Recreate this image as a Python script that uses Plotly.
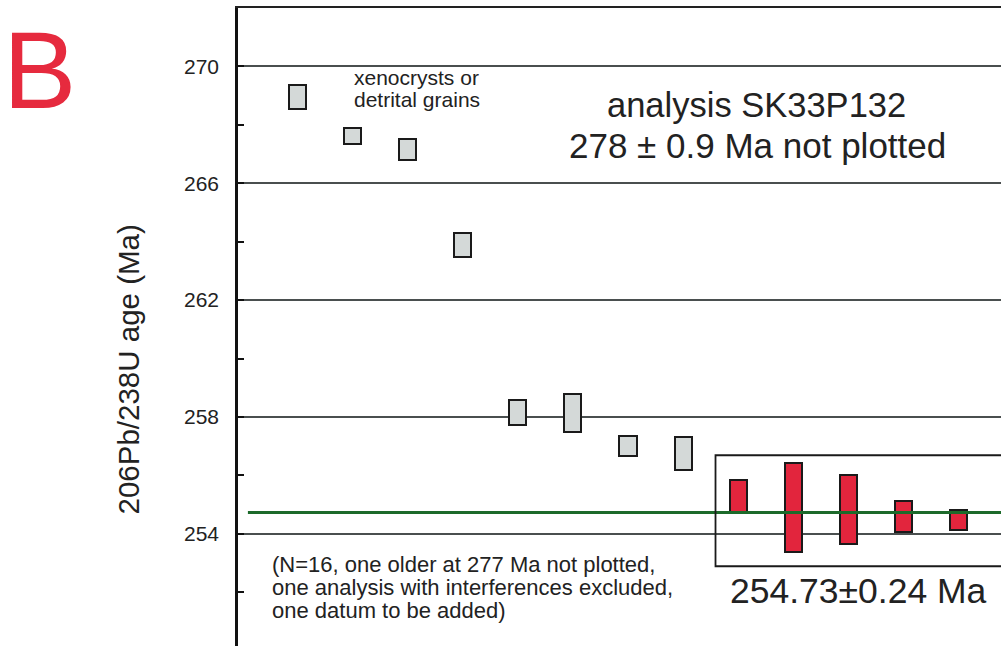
import plotly.graph_objects as go

# U-Pb zircon ages (Ma): each analysis drawn as a box from low to high age
gray_pos = [1, 2, 3, 4, 5, 6, 7, 8]
gray_lo = [268.55, 267.33, 266.78, 263.46, 257.72, 257.49, 256.65, 256.20]
gray_hi = [269.35, 267.89, 267.52, 264.31, 258.57, 258.78, 257.34, 257.31]

red_pos = [9, 10, 11, 12, 13]
red_lo = [254.76, 253.39, 253.66, 254.07, 254.14]
red_hi = [255.83, 256.42, 256.02, 255.11, 254.82]

mean_age = 254.73
mean_err = 0.24

grid_ticks = [254, 258, 262, 266, 270]
tick_labels = ["254", "258", "262", "266", "270"]

FONT = "Liberation Sans, Arial, sans-serif"
INK = "#222222"

fig = go.Figure()

fig.add_trace(go.Bar(
    x=gray_pos,
    base=gray_lo,
    y=[h - l for h, l in zip(gray_hi, gray_lo)],
    width=0.31,
    marker=dict(color="#d4d9d8", line=dict(color="#1a1a1a", width=2)),
    showlegend=False,
))
fig.add_trace(go.Bar(
    x=red_pos,
    base=red_lo,
    y=[h - l for h, l in zip(red_hi, red_lo)],
    width=0.31,
    marker=dict(color="#e2253d", line=dict(color="#1a1a1a", width=2)),
    showlegend=False,
))

X_MIN, X_MAX = -0.08, 13.772
Y_MIN, Y_MAX = 250.16, 272.0

# weighted mean line
fig.add_shape(type="line", xref="x", yref="y",
              x0=0.10, x1=X_MAX, y0=mean_age, y1=mean_age,
              line=dict(color="#1c6a2a", width=3), layer="above")

# open frame around the concordant group
fig.add_shape(type="path", xref="x", yref="y",
              path=f"M {X_MAX},256.69 L 8.589,256.69 L 8.589,252.89 L {X_MAX},252.89",
              line=dict(color="#1a1a1a", width=1.8), layer="above")

ann = []
ann.append(dict(text="xenocrysts or", x=3.164, y=269.62, font_size=21))
ann.append(dict(text="detrital grains", x=3.164, y=268.87, font_size=21))
ann.append(dict(text="analysis SK33P132", x=9.333, y=268.69, font_size=34.5))
ann.append(dict(text="278 \u00b1 0.9 Ma not plotted", x=9.36, y=267.28, font_size=35))
ann.append(dict(text=f"{mean_age:.2f}\u00b1{mean_err:.2f} Ma", x=11.176, y=252.05, font_size=35.5))
for a in ann:
    fig.add_annotation(text=a["text"], x=a["x"], y=a["y"], xref="x", yref="y",
                       xanchor="center", yanchor="middle", showarrow=False,
                       font=dict(family=FONT, size=a["font_size"], color=INK))

note_lines = ["(N=16, one older at 277 Ma not plotted,",
              "one analysis with interferences excluded,",
              "one datum to be added)"]
for line, yv in zip(note_lines, [252.96, 252.17, 251.38]):
    fig.add_annotation(text=line, x=0.50, y=yv, xref="x", yref="y",
                       xanchor="left", yanchor="middle", showarrow=False,
                       font=dict(family=FONT, size=22, color=INK))

# axis title
fig.add_annotation(text="206Pb/238U age (Ma)", x=-0.1435, y=259.61,
                   xref="paper", yref="y", textangle=-90,
                   xanchor="center", yanchor="middle", showarrow=False,
                   font=dict(family=FONT, size=29.5, color=INK))

# panel letter
fig.add_annotation(text="B", x=-0.2608, y=269.9, xref="paper", yref="y",
                   xanchor="center", yanchor="middle", showarrow=False,
                   font=dict(family=FONT, size=110, color="#e62a3e"))

fig.update_layout(
    width=1001, height=646,
    margin=dict(l=238, r=0, t=8, b=0, pad=0),
    paper_bgcolor="white", plot_bgcolor="white",
    bargap=0,
    xaxis=dict(range=[X_MIN, X_MAX], showgrid=False, zeroline=False,
               showticklabels=False, ticks="", side="top",
               showline=True, linecolor="#222222", linewidth=2),
    yaxis=dict(range=[Y_MIN, Y_MAX], tickmode="array",
               tickvals=grid_ticks, ticktext=tick_labels,
               showgrid=True, gridcolor="#4a4f4f", gridwidth=2,
               zeroline=False, showline=True, linecolor="#111111", linewidth=2.5,
               ticks="inside", ticklen=6, tickwidth=2, tickcolor="#111111",
               ticklabelstandoff=12,
               minor=dict(tickmode="linear", tick0=250, dtick=2, ticks="inside",
                          ticklen=6, tickwidth=2, tickcolor="#111111", showgrid=False),
               tickfont=dict(family=FONT, size=21, color=INK)),
)

fig.write_html("out.html")
